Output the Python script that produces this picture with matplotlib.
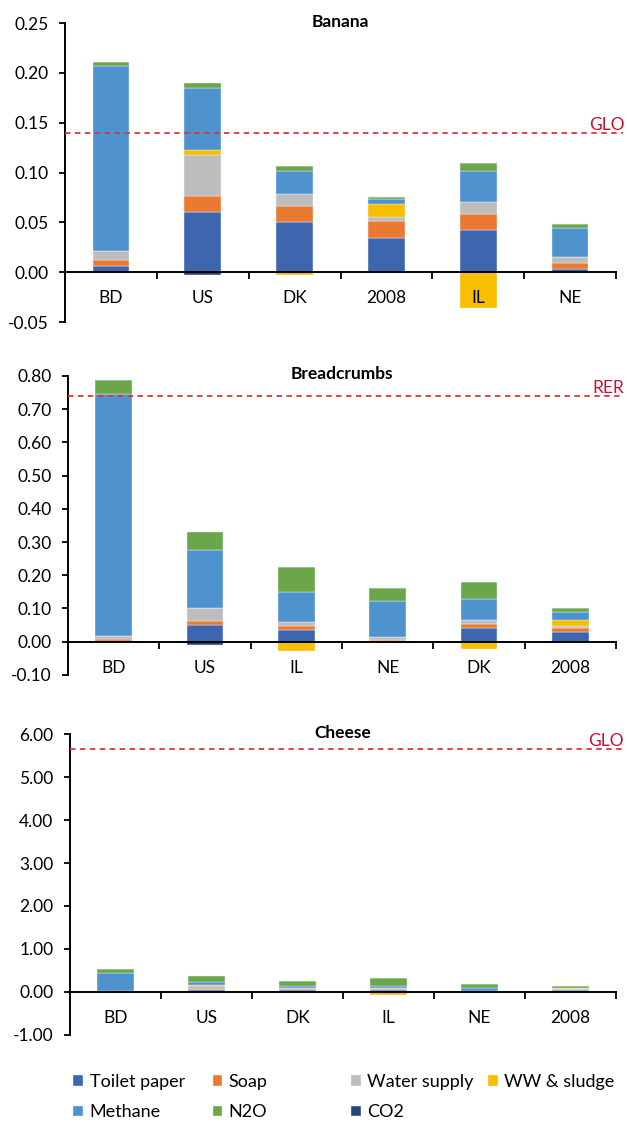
import numpy as np
import matplotlib.pyplot as plt
from matplotlib.ticker import FormatStrFormatter, FixedLocator

plt.rcParams['font.family'] = ['Lato', 'DejaVu Sans']

series = ["Toilet paper", "Soap", "Water supply", "WW & sludge", "Methane", "N2O", "CO2"]
colors = ["#3E66AF", "#EA7A31", "#BDBDBD", "#F8BE00", "#4E92CE", "#6BA74A", "#264478"]

# Banana
banana_cats = ["BD", "US", "DK", "2008", "IL", "NE"]
banana_vals = [
    [0.0067, 0.060, 0.0507, 0.0347, 0.0427, 0.0027],   # Toilet paper
    [0.0053, 0.016, 0.016, 0.017, 0.016, 0.0067],      # Soap
    [0.0093, 0.042, 0.0117, 0.004, 0.0117, 0.006],     # Water supply
    [0.0, 0.0046, -0.003, 0.0127, -0.036, 0.0],        # WW & sludge
    [0.1857, 0.062, 0.0227, 0.005, 0.0313, 0.0293],    # Methane
    [0.004, 0.0056, 0.005, 0.002, 0.008, 0.0033],      # N2O
    [0.0, -0.003, 0.0, 0.0, 0.0, 0.0],                 # CO2
]
banana_ref = 0.14
banana_ref_label = "GLO"
banana_yticks = [-0.05, 0.0, 0.05, 0.10, 0.15, 0.20, 0.25]

# Breadcrumbs
bread_cats = ["BD", "US", "IL", "NE", "DK", "2008"]
bread_vals = [
    [0.003, 0.051, 0.035, 0.002, 0.042, 0.028],
    [0.005, 0.012, 0.013, 0.004, 0.012, 0.014],
    [0.009, 0.037, 0.011, 0.007, 0.010, 0.005],
    [0.0, 0.002, -0.029, 0.0, -0.021, 0.018],
    [0.729, 0.174, 0.091, 0.111, 0.066, 0.024],
    [0.041, 0.055, 0.075, 0.039, 0.049, 0.013],
    [0.0, -0.010, 0.0, 0.0, 0.0, 0.0],
]
bread_ref = 0.738
bread_ref_label = "RER"
bread_yticks = [-0.10, 0.0, 0.10, 0.20, 0.30, 0.40, 0.50, 0.60, 0.70, 0.80]

# Cheese
cheese_cats = ["BD", "US", "DK", "IL", "NE", "2008"]
cheese_vals = [
    [0.005, 0.05, 0.04, 0.04, 0.003, 0.03],
    [0.005, 0.015, 0.02, 0.02, 0.005, 0.02],
    [0.01, 0.075, 0.03, 0.02, 0.005, 0.01],
    [0.0, 0.005, -0.005, -0.078, 0.0, 0.03],
    [0.42, 0.09, 0.05, 0.05, 0.065, 0.005],
    [0.10, 0.14, 0.12, 0.18, 0.10, 0.035],
    [0.0, -0.010, 0.0, 0.0, 0.0, 0.0],
]
cheese_ref = 5.67
cheese_ref_label = "GLO"
cheese_yticks = [-1.0, 0.0, 1.0, 2.0, 3.0, 4.0, 5.0, 6.0]

fig = plt.figure(figsize=(6.27, 11.22), dpi=100)

def panel(rect, title, cats, vals, ref, ref_label, yticks):
    ax = fig.add_axes(rect)
    x = np.arange(len(cats))
    pos = np.zeros(len(cats))
    neg = np.zeros(len(cats))
    handles = []
    for name, col, v in zip(series, colors, vals):
        v = np.array(v)
        bottom = np.where(v >= 0, pos, neg)
        b = ax.bar(x, v, width=0.4, bottom=bottom, color=col, edgecolor="#EEF3FA",
                   linewidth=0.3, label=name, zorder=1)
        handles.append(b)
        pos = pos + np.where(v > 0, v, 0)
        neg = neg + np.where(v < 0, v, 0)

    ax.set_xlim(-0.5, len(cats) - 0.5)
    ax.set_ylim(yticks[0], yticks[-1])
    ax.spines['top'].set_visible(False)
    ax.spines['right'].set_visible(False)
    ax.spines['bottom'].set_position(('data', 0))
    ax.spines['bottom'].set_linewidth(1.4)
    ax.spines['left'].set_linewidth(1.4)

    ax.set_yticks(yticks)
    ax.yaxis.set_major_formatter(FormatStrFormatter('%.2f'))
    ax.tick_params(axis='y', length=4, width=1.3, pad=8, labelsize=12.5)

    ax.set_xticks(x)
    ax.set_xticklabels(cats)
    ax.tick_params(axis='x', which='major', length=0, pad=13, labelsize=12.5)
    ax.xaxis.set_minor_locator(FixedLocator(np.arange(len(cats) + 1) - 0.5))
    ax.tick_params(axis='x', which='minor', length=5, width=1.3, direction='out')

    ax.plot([0, 1.012], [ref, ref], transform=ax.get_yaxis_transform(),
            color="#D9373A", lw=1.3, ls=(0, (3, 2.5)), clip_on=False, zorder=3)
    ax.text(1.015, ref, ref_label, transform=ax.get_yaxis_transform(),
            ha='right', va='bottom', color="#C8102E", fontsize=12.5)
    ax.text(0.5, 1.005, title, transform=ax.transAxes, ha='center', va='center',
            fontsize=12.5, fontweight='bold')
    return handles

h = panel([0.1037, 0.7130, 0.8788, 0.2665], "Banana", banana_cats, banana_vals,
          banana_ref, banana_ref_label, banana_yticks)
panel([0.1085, 0.3984, 0.8740, 0.2667], "Breadcrumbs", bread_cats, bread_vals,
      bread_ref, bread_ref_label, bread_yticks)
panel([0.1116, 0.0779, 0.8709, 0.2676], "Cheese", cheese_cats, cheese_vals,
      cheese_ref, cheese_ref_label, cheese_yticks)

# legend: four evenly spaced columns
cols = [[0, 4], [1, 5], [2, 6], [3]]
col_x = [0.117, 0.339, 0.560, 0.778]
for cx, idx in zip(col_x, cols):
    fig.legend([h[i] for i in idx], [series[i] for i in idx], loc='upper left',
               bbox_to_anchor=(cx, 0.0425), frameon=False, fontsize=13,
               handlelength=0.55, handleheight=0.55, handletextpad=0.35,
               labelspacing=0.78, borderpad=0, borderaxespad=0)

fig.savefig("out.png", dpi=100)
